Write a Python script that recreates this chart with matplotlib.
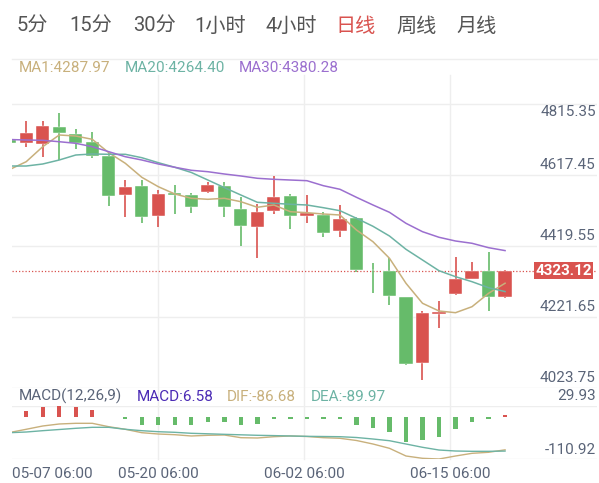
import matplotlib
matplotlib.use('Agg')
import matplotlib.pyplot as plt
from matplotlib.lines import Line2D
import numpy as np

plt.rcParams['font.family'] = ['Roboto', 'Noto Sans CJK SC', 'DejaVu Sans']

# period tabs along the top
tabs = ['5分', '15分', '30分', '1小时', '4小时', '日线', '周线', '月线']
active_tab = '日线'

# axis labels
dates = ['05-07 06:00', '05-20 06:00', '06-02 06:00', '06-15 06:00']
price_ticks = ['4815.35', '4617.45', '4419.55', '4221.65', '4023.75']
macd_ticks = ['29.93', '-110.92']

# daily candles
opens = [4692.9, 4685.3, 4681.6, 4728.8, 4709.1, 4688.1, 4648.5, 4537.4, 4562.9, 4478.1,
         4543.9, 4537.4, 4545.9, 4562.9, 4497.0, 4446.1, 4493.1, 4534.6, 4478.1, 4480.9,
         4435.7, 4471.6, 4326.8, 4323.4, 4248.2, 4061.6, 4201.0, 4257.6, 4300.8, 4323.4,
         4248.2]
closes = [4684.4, 4711.9, 4733.4, 4711.9, 4685.3, 4648.5, 4534.6, 4560.9, 4476.1, 4539.4,
          4536.6, 4504.4, 4565.7, 4502.7, 4450.6, 4489.4, 4532.6, 4478.9, 4485.7, 4429.2,
          4468.7, 4325.4, 4324.0, 4252.7, 4059.7, 4203.0, 4206.7, 4300.0, 4323.4, 4248.2,
          4323.12]
highs = [4695.8, 4746.6, 4746.6, 4770.1, 4723.2, 4715.6, 4655.3, 4579.8, 4579.8, 4551.6,
         4565.7, 4542.2, 4575.0, 4575.0, 4532.6, 4511.2, 4591.2, 4540.3, 4536.6, 4490.2,
         4509.2, 4475.2, 4346.0, 4358.5, 4249.9, 4210.3, 4237.8, 4361.3, 4347.2, 4375.4,
         4326.5]
lows = [4681.6, 4674.0, 4645.7, 4636.4, 4666.6, 4641.2, 4506.3, 4474.4, 4459.1, 4447.8,
        4483.7, 4487.4, 4543.9, 4476.1, 4394.1, 4360.2, 4483.7, 4442.2, 4457.4, 4419.6,
        4417.9, 4319.8, 4261.2, 4226.5, 4056.8, 4014.4, 4160.6, 4254.7, 4299.1, 4210.3,
        4245.4]

ma1 = [4609.5, 4631.6, 4674.0, 4707.1, 4704.2, 4694.9, 4657.0, 4627.1, 4587.5, 4560.9,
       4540.3, 4528.1, 4525.3, 4528.1, 4518.5, 4502.7, 4509.2, 4490.2, 4487.4, 4483.7,
       4480.9, 4438.5, 4405.4, 4358.5, 4287.8, 4231.3, 4209.5, 4204.7, 4221.7, 4259.5,
       4287.97]
ma20 = [4619.4, 4619.4, 4625.1, 4636.4, 4650.5, 4653.4, 4652.5, 4652.5, 4642.9, 4628.8,
        4615.8, 4601.1, 4579.8, 4558.4, 4537.4, 4516.8, 4514.0, 4511.2, 4509.2, 4501.5,
        4493.1, 4471.6, 4449.0, 4421.5, 4383.9, 4353.7, 4323.4, 4306.5, 4292.3, 4275.4,
        4264.40]
ma30 = [4694.3, 4692.9, 4692.1, 4688.1, 4683.6, 4674.0, 4659.9, 4645.7, 4636.4, 4625.1,
        4615.8, 4607.3, 4603.3, 4596.8, 4591.2, 4584.7, 4581.8, 4579.8, 4577.9, 4563.7,
        4553.6, 4530.9, 4509.2, 4488.5, 4457.4, 4433.7, 4417.9, 4407.4, 4400.9, 4388.5,
        4380.28]

# MACD(12,26,9)
macd = [1.5, 15.3, 27.0, 29.93, 27.0, 19.8, 0.8, -4.5, -21.7, -21.7,
        -19.8, -21.7, -12.7, -12.7, -19.8, -17.2, -4.5, -4.5, -4.5, -6.0,
        -4.5, -21.7, -28.5, -39.1, -66.6, -61.3, -52.3, -31.2, -12.7, -4.5,
        6.58]
dif = [-40.9, -32.4, -23.7, -18.4, -16.6, -16.6, -25.6, -32.4, -41.4, -44.9,
       -46.7, -50.1, -48.3, -47.5, -54.6, -55.4, -52.0, -50.1, -51.5, -54.6,
       -56.2, -62.0, -71.3, -82.7, -103.0, -109.1, -110.92, -103.0, -95.9, -93.2,
       -86.68]
dea = [-41.4, -39.6, -36.1, -33.0, -29.8, -27.2, -27.2, -32.4, -36.1, -38.8,
       -40.4, -43.0, -44.3, -45.7, -47.0, -48.3, -49.1, -50.1, -51.0, -51.5,
       -52.0, -54.1, -58.1, -62.6, -71.3, -80.0, -87.2, -89.8, -90.6, -90.6,
       -89.97]

last_price = 4323.12

RED = '#d9534f'
GREEN = '#66bb6a'
C_MA1 = '#c8b07c'
C_MA20 = '#6db3a4'
C_MA30 = '#9b6fcf'
SLATE = '#5a6478'
GRID = '#eeeeee'
FS = 11

W, H = 599, 483
fig = plt.figure(figsize=(W / 100, H / 100), dpi=100)

def fx(px):
    return px / W

def fy(py):
    return 1 - py / H

left_px, right_px = 11.7, 596.7
main_top, main_bot = 75, 388
macd_top, macd_bot = 405.7, 459

ax = fig.add_axes([fx(left_px), fy(main_bot), fx(right_px - left_px), (main_bot - main_top) / H])
ax2 = fig.add_axes([fx(left_px), fy(macd_bot), fx(right_px - left_px), (macd_bot - macd_top) / H])

for a in (ax, ax2):
    a.set_axis_off()
    a.set_xlim(0.121, 35.55)

x = np.arange(len(closes))

# --- candles
ax.set_ylim(3991.8, 4876.7)
colors = [RED if c >= o else GREEN for o, c in zip(opens, closes)]
ax.vlines(x, lows, highs, colors=colors, lw=1.2, zorder=2)
body_lo = np.minimum(opens, closes)
body_h = np.maximum(np.abs(np.array(closes) - np.array(opens)), 1.5)
ax.bar(x, body_h, bottom=body_lo, width=0.8, color=colors, zorder=3,
       edgecolor='white', linewidth=0.3)

ax.plot(x, ma1, color=C_MA1, lw=1.1, zorder=4)
ax.plot(x, ma20, color=C_MA20, lw=1.1, zorder=4)
ax.plot(x, ma30, color=C_MA30, lw=1.1, zorder=4)

# last price line + tag
ax.axhline(last_price, color=RED, lw=0.9, ls=(0, (1, 1.6)), zorder=1)
ax.annotate(f'{last_price:.2f}', xy=(1, last_price), xycoords=('axes fraction', 'data'),
            xytext=(-5, 0), textcoords='offset pixels', ha='right', va='center',
            color='white', fontsize=FS, fontweight='bold', zorder=6,
            bbox=dict(boxstyle='square,pad=0.1', fc=RED, ec='none'))

# horizontal grid of the price panel (71 px apart, upward from the bottom)
step = 71 / (main_bot - main_top)
y0, y1 = ax.get_ylim()
for k, lab in enumerate(reversed(price_ticks)):
    f = k * step
    ax.axhline(y0 + f * (y1 - y0), color=GRID, lw=1, zorder=0)
    dy = 10.3 if k < len(price_ticks) - 1 else -8.3
    ax.annotate(lab, xy=(1, f), xycoords='axes fraction', xytext=(-1, dy),
                textcoords='offset pixels', ha='right', va='center',
                color=SLATE, fontsize=FS, zorder=5)

# --- MACD panel
ax2.set_ylim(-110.92, 29.93)
ax2.bar(x, macd, width=0.26, color=[RED if m >= 0 else GREEN for m in macd], zorder=2)
ax2.plot(x, dif, color=C_MA1, lw=1.0, zorder=3)
ax2.plot(x, dea, color=C_MA20, lw=1.0, zorder=3)
for f in (0, 1):
    ax2.axhline(-110.92 + f * (29.93 + 110.92), color=GRID, lw=1, zorder=0)
ax2.annotate(macd_ticks[0], xy=(1, 1), xycoords='axes fraction', xytext=(-1, 10),
             textcoords='offset pixels', ha='right', va='center', color=SLATE, fontsize=FS)
ax2.annotate(macd_ticks[1], xy=(1, 0), xycoords='axes fraction', xytext=(-1, 9),
             textcoords='offset pixels', ha='right', va='center', color=SLATE, fontsize=FS)

# vertical grid across both panels
for k in (1, 2, 3):
    xf = fx(left_px + k * (right_px - left_px) / 4)
    fig.add_artist(Line2D([xf, xf], [fy(main_top), fy(macd_bot)], color=GRID, lw=1, zorder=0))

# date labels
for k, d in enumerate(dates):
    xf = fx(left_px + k * (right_px - left_px) / 4)
    fig.text(xf if k else fx(left_px), fy(474), d, ha='left' if k == 0 else 'center',
             va='center', color=SLATE, fontsize=FS)

# tabs + separator
tab_x = [32.5, 91, 154, 220, 291, 356, 416.5, 477]
for t, tx in zip(tabs, tab_x):
    fig.text(fx(tx), fy(26), t, ha='center', va='center', fontsize=14.5,
             color=RED if t == active_tab else '#555555')
fig.add_artist(Line2D([fx(left_px), fx(right_px)], [fy(59), fy(59)], color=GRID, lw=1))

# MA legend
fig.text(fx(19), fy(68), f'MA1:{ma1[-1]:.2f}', color=C_MA1, fontsize=FS, va='center')
fig.text(fx(125), fy(68), f'MA20:{ma20[-1]:.2f}', color=C_MA20, fontsize=FS, va='center')
fig.text(fx(239), fy(68), f'MA30:{ma30[-1]:.2f}', color=C_MA30, fontsize=FS, va='center')

# MACD legend
fig.text(fx(19), fy(396.7), 'MACD(12,26,9)', color=SLATE, fontsize=FS, va='center')
fig.text(fx(136.7), fy(396.7), f'MACD:{macd[-1]:.2f}', color='#4b2bb5', fontsize=FS, va='center')
fig.text(fx(226.7), fy(396.7), f'DIF:{dif[-1]:.2f}', color=C_MA1, fontsize=FS, va='center')
fig.text(fx(311), fy(396.7), f'DEA:{dea[-1]:.2f}', color=C_MA20, fontsize=FS, va='center')

fig.savefig('out.png', dpi=100, facecolor='white')
